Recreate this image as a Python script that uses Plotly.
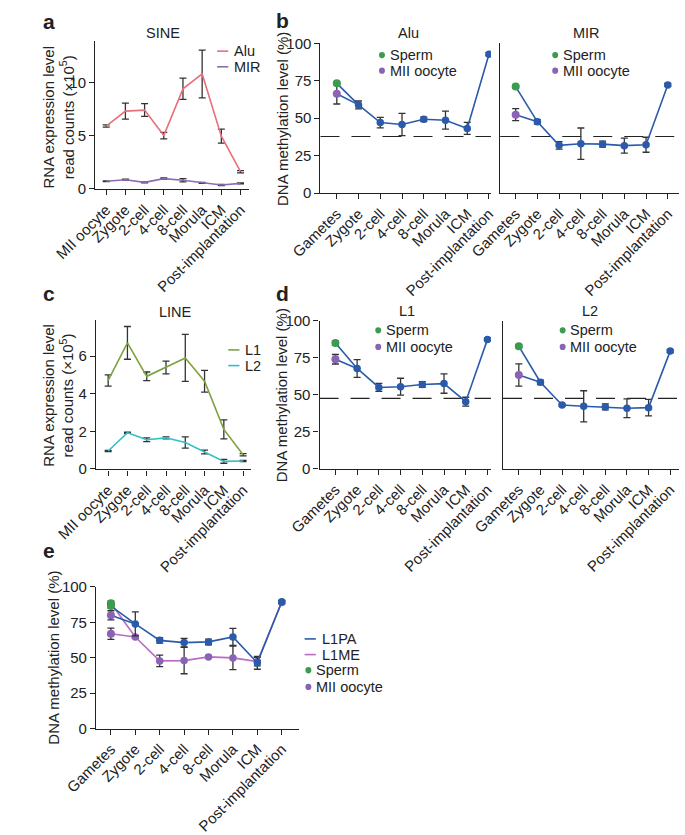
import plotly.graph_objects as go

W, H = 685, 835
FONT = "Liberation Sans, Arial, Helvetica, sans-serif"
INK = "#222222"

# ---------------- data ----------------
stages_rna = ["MII oocyte", "Zygote", "2-cell", "4-cell", "8-cell", "Morula", "ICM", "Post-implantation"]
stages_meth = ["Gametes", "Zygote", "2-cell", "4-cell", "8-cell", "Morula", "ICM", "Post-implantation"]

# panel a (SINE RNA, x10^5 read counts)
alu_rna = [5.9, 7.3, 7.4, 5.0, 9.4, 10.8, 4.95, 1.6]
alu_rna_err = [0.1, 0.75, 0.6, 0.3, 1.0, 2.25, 0.65, 0.1]
mir_rna = [0.7, 0.85, 0.6, 0.95, 0.8, 0.55, 0.35, 0.5]
mir_rna_err = [0.04, 0.04, 0.05, 0.06, 0.15, 0.05, 0.05, 0.04]

# panel c (LINE RNA)
l1_rna = [4.7, 6.7, 4.92, 5.39, 5.9, 4.66, 2.1, 0.75]
l1_rna_err = [0.3, 0.87, 0.23, 0.34, 1.25, 0.58, 0.5, 0.06]
l2_rna = [0.95, 1.92, 1.55, 1.65, 1.4, 0.9, 0.4, 0.42]
l2_rna_err = [0.03, 0.03, 0.1, 0.05, 0.3, 0.1, 0.1, 0.03]

# panel b (SINE methylation, %)
alu_sperm, alu_sperm_err = 73.3, 1.0
alu_oocyte, alu_oocyte_err = 66.3, 6.8
alu_emb = [58.9, 47.1, 45.8, 49.3, 48.7, 43.2, 92.7]
alu_emb_err = [2.6, 3.5, 7.4, 1.5, 6.0, 4.0, 1.0]
mir_sperm, mir_sperm_err = 71.1, 1.0
mir_oocyte, mir_oocyte_err = 52.4, 4.0
mir_emb = [47.6, 31.9, 33.0, 32.7, 31.7, 32.3, 72.2]
mir_emb_err = [1.5, 2.5, 10.5, 2.0, 5.0, 5.0, 1.0]
sine_ref_level = 37.8

# panel d (LINE methylation, %)
l1_sperm, l1_sperm_err = 84.8, 1.5
l1_oocyte, l1_oocyte_err = 73.9, 3.2
l1_emb = [67.7, 54.9, 55.4, 56.9, 57.5, 45.3, 87.3]
l1_emb_err = [6.0, 2.7, 5.7, 2.0, 6.5, 3.0, 1.0]
l2_sperm, l2_sperm_err = 82.6, 1.0
l2_oocyte, l2_oocyte_err = 63.3, 7.5
l2_emb = [58.4, 43.1, 42.2, 41.8, 40.9, 41.3, 79.4]
l2_emb_err = [1.5, 0.8, 10.5, 2.0, 6.3, 5.6, 1.0]
line_ref_level = 47.5

# panel e (L1 subfamilies methylation, %)
l1pa_sperm, l1pa_sperm_err = 86.5, 1.5
l1pa_oocyte, l1pa_oocyte_err = 80.0, 3.2
l1pa_emb = [73.9, 62.3, 60.7, 61.2, 64.7, 46.4, 89.6]
l1pa_emb_err = [8.5, 2.0, 3.0, 2.0, 6.0, 4.5, 1.0]
l1me_sperm, l1me_sperm_err = 88.5, 1.5
l1me_oocyte, l1me_oocyte_err = 67.0, 4.0
l1me_emb = [64.7, 47.8, 48.0, 50.6, 49.9, 47.3, 89.1]
l1me_emb_err = [1.0, 4.0, 9.3, 1.0, 8.3, 3.0, 1.0]

# ---------------- colours ----------------
C_ALU = "#E8707B"
C_MIR = "#8B6CB3"
C_L1 = "#7DA33E"
C_L2 = "#33BFC6"
C_BLUE = "#2A5BAA"
C_SPERM = "#3C9B4E"
C_OOCYTE = "#8A63B6"
C_L1ME = "#B86DC2"
C_ERR = "#333333"

fig = go.Figure()


def xdom(a, b):
    return [a / W, b / W]


def ydom(top, bottom):
    return [1 - bottom / H, 1 - top / H]


panels = {
    1: dict(xd=(57, 222), yd=(33, 184), xr=(-0.58, 7.43), yr=(-0.05, 13.87), yt=[0, 5, 10], lab=stages_rna, yl=True),
    2: dict(xd=(299, 482), yd=(35, 188), xr=(-0.75, 7.09), yr=(0, 100), yt=[0, 25, 50, 75, 100], lab=stages_meth, yl=True),
    3: dict(xd=(492, 684), yd=(35, 188), xr=(-0.71, 7.52), yr=(0, 100), yt=[], lab=stages_meth, yl=False),
    4: dict(xd=(58, 224), yd=(317, 470), xr=(-0.63, 7.39), yr=(-0.03, 7.94), yt=[0, 2, 4, 6], lab=stages_rna, yl=True),
    5: dict(xd=(298, 482), yd=(318, 469.5), xr=(-0.73, 7.16), yr=(0, 100), yt=[0, 25, 50, 75, 100], lab=stages_meth, yl=True),
    6: dict(xd=(495, 684), yd=(318, 469.5), xr=(-0.73, 7.41), yr=(0, 100), yt=[], lab=stages_meth, yl=False),
    7: dict(xd=(58, 276), yd=(590, 734.5), xr=(-0.61, 7.71), yr=(0, 100), yt=[0, 25, 50, 75, 100], lab=stages_meth, yl=True),
}

common = dict(showline=True, linecolor=INK, linewidth=1.2, showgrid=False, zeroline=False,
              tickcolor=INK, tickwidth=1.2, ticklen=5,
              tickfont=dict(family=FONT, size=15, color=INK))

for i, p in panels.items():
    sfx = "" if i == 1 else str(i)
    fig.layout["xaxis" + sfx] = dict(
        domain=xdom(*p["xd"]), range=list(p["xr"]), anchor="y" + sfx,
        tickmode="array", tickvals=list(range(len(p["lab"]))), ticktext=p["lab"],
        tickangle=-45, ticks="outside", **common)
    ydict = dict(domain=ydom(*p["yd"]), range=list(p["yr"]), anchor="x" + sfx, **common)
    if p["yl"]:
        ydict.update(tickmode="array", tickvals=p["yt"], ticks="outside")
    else:
        ydict.update(ticks="", showticklabels=False)
    fig.layout["yaxis" + sfx] = ydict


def ax(i):
    return ("x", "y") if i == 1 else ("x%d" % i, "y%d" % i)


def err(arr):
    return dict(type="data", array=arr, color=C_ERR, thickness=1.3, width=3.5, visible=True)


def rna(i, y, e, color, name):
    xa, ya = ax(i)
    fig.add_trace(go.Scatter(x=list(range(len(y))), y=y, mode="lines", name=name,
                             line=dict(color=color, width=1.6), error_y=err(e),
                             xaxis=xa, yaxis=ya, showlegend=False))


def meth_lines(i, sperm, oocyte, emb, emb_e, lcolor, mcolor, name):
    xa, ya = ax(i)
    for g in (sperm, oocyte):
        fig.add_trace(go.Scatter(x=[0, 1], y=[g, emb[0]], mode="lines", line=dict(color=lcolor, width=1.6),
                                 xaxis=xa, yaxis=ya, showlegend=False, hoverinfo="skip"))
    fig.add_trace(go.Scatter(x=list(range(1, len(emb) + 1)), y=emb, mode="lines+markers", name=name,
                             line=dict(color=lcolor, width=1.6), marker=dict(color=mcolor, size=7.5),
                             error_y=err(emb_e), xaxis=xa, yaxis=ya, showlegend=False))


def gamete_dots(i, sperm, sperm_e, oocyte, oocyte_e):
    xa, ya = ax(i)
    fig.add_trace(go.Scatter(x=[0], y=[oocyte], mode="markers", name="MII oocyte",
                             marker=dict(color=C_OOCYTE, size=8), error_y=err([oocyte_e]),
                             xaxis=xa, yaxis=ya, showlegend=False))
    fig.add_trace(go.Scatter(x=[0], y=[sperm], mode="markers", name="Sperm",
                             marker=dict(color=C_SPERM, size=8), error_y=err([sperm_e]),
                             xaxis=xa, yaxis=ya, showlegend=False))


# panel a
rna(1, alu_rna, alu_rna_err, C_ALU, "Alu")
rna(1, mir_rna, mir_rna_err, C_MIR, "MIR")
# panel c
rna(4, l1_rna, l1_rna_err, C_L1, "L1")
rna(4, l2_rna, l2_rna_err, C_L2, "L2")
# panel b
meth_lines(2, alu_sperm, alu_oocyte, alu_emb, alu_emb_err, C_BLUE, C_BLUE, "Alu")
gamete_dots(2, alu_sperm, alu_sperm_err, alu_oocyte, alu_oocyte_err)
meth_lines(3, mir_sperm, mir_oocyte, mir_emb, mir_emb_err, C_BLUE, C_BLUE, "MIR")
gamete_dots(3, mir_sperm, mir_sperm_err, mir_oocyte, mir_oocyte_err)
# panel d
meth_lines(5, l1_sperm, l1_oocyte, l1_emb, l1_emb_err, C_BLUE, C_BLUE, "L1")
gamete_dots(5, l1_sperm, l1_sperm_err, l1_oocyte, l1_oocyte_err)
meth_lines(6, l2_sperm, l2_oocyte, l2_emb, l2_emb_err, C_BLUE, C_BLUE, "L2")
gamete_dots(6, l2_sperm, l2_sperm_err, l2_oocyte, l2_oocyte_err)
# panel e
meth_lines(7, l1me_sperm, l1me_oocyte, l1me_emb, l1me_emb_err, C_L1ME, C_OOCYTE, "L1ME")
meth_lines(7, l1pa_sperm, l1pa_oocyte, l1pa_emb, l1pa_emb_err, C_BLUE, C_BLUE, "L1PA")
gamete_dots(7, l1me_sperm, l1me_sperm_err, l1me_oocyte, l1me_oocyte_err)
gamete_dots(7, l1pa_sperm, l1pa_sperm_err, l1pa_oocyte, l1pa_oocyte_err)

# reference (dashed) levels
shapes = []
for i, lvl in ((2, sine_ref_level), (3, sine_ref_level), (5, line_ref_level), (6, line_ref_level)):
    xa, ya = ax(i)
    shapes.append(dict(type="line", xref=xa + " domain", x0=0, x1=1, yref=ya, y0=lvl, y1=lvl,
                       line=dict(color=INK, width=1.2, dash="19px,12px"), layer="below"))

# ---------------- text ----------------
ann = []


def txt(x, y, s, size=14.5, bold=False, angle=0, xanchor="center", yanchor="middle"):
    if bold:
        s = "<b>%s</b>" % s
    ann.append(dict(x=x / W, y=1 - y / H, xref="paper", yref="paper", text=s, showarrow=False,
                    textangle=angle, xanchor=xanchor, yanchor=yanchor,
                    font=dict(family=FONT, size=size, color=INK)))


def line_key(x, y, color, label):
    shapes.append(dict(type="line", xref="paper", yref="paper", x0=x / W, x1=(x + 12) / W,
                       y0=1 - y / H, y1=1 - y / H, line=dict(color=color, width=1.6)))
    txt(x + 16, y, label, xanchor="left")


def dot_key(x, y, color, label):
    r = 3.2
    shapes.append(dict(type="circle", xref="paper", yref="paper", x0=(x - r) / W, x1=(x + r) / W,
                       y0=1 - (y + r) / H, y1=1 - (y - r) / H, fillcolor=color, line=dict(width=0)))
    txt(x + 6, y, label, xanchor="left")


# panel letters
txt(7, 13, "a", size=21, bold=True)
txt(258, 12, "b", size=21, bold=True)
txt(7, 290, "c", size=21, bold=True)
txt(258, 290, "d", size=21, bold=True)
txt(7, 553, "e", size=21, bold=True)

# titles
txt(130, 24, "SINE")
txt(393, 25, "Alu")
txt(585, 25, "MIR")
txt(143, 309, "LINE")
txt(392, 308, "L1")
txt(588, 308, "L2")

# y-axis titles
rna_title = "RNA expression level<br>read counts (×10<sup>5</sup>)"
meth_title = "DNA methylation level (%)"
txt(18, 110, rna_title, size=15, angle=-90)
txt(18, 394, rna_title, size=15, angle=-90)
txt(258, 112, meth_title, size=15, angle=-90)
txt(258, 394, meth_title, size=15, angle=-90)
txt(12, 662, meth_title, size=15, angle=-90)

# keys
line_key(188, 43, C_ALU, "Alu")
line_key(188, 59, C_MIR, "MIR")
line_key(200, 348, C_L1, "L1")
line_key(200, 364, C_L2, "L2")
dot_key(365, 47, C_SPERM, "Sperm")
dot_key(365, 63, C_OOCYTE, "MII oocyte")
dot_key(551, 47, C_SPERM, "Sperm")
dot_key(551, 63, C_OOCYTE, "MII oocyte")
dot_key(361, 328, C_SPERM, "Sperm")
dot_key(361, 345, C_OOCYTE, "MII oocyte")
dot_key(559, 328, C_SPERM, "Sperm")
dot_key(559, 345, C_OOCYTE, "MII oocyte")
line_key(282, 643, C_BLUE, "L1PA")
line_key(282, 659, C_L1ME, "L1ME")
dot_key(286, 675, C_SPERM, "Sperm")
dot_key(286, 692, C_OOCYTE, "MII oocyte")

fig.update_layout(annotations=ann, shapes=shapes, width=W, height=H, margin=dict(l=0, r=0, t=0, b=0),
                  paper_bgcolor="white", plot_bgcolor="white", showlegend=False,
                  font=dict(family=FONT, size=14, color=INK))

fig.write_html("out.html")
